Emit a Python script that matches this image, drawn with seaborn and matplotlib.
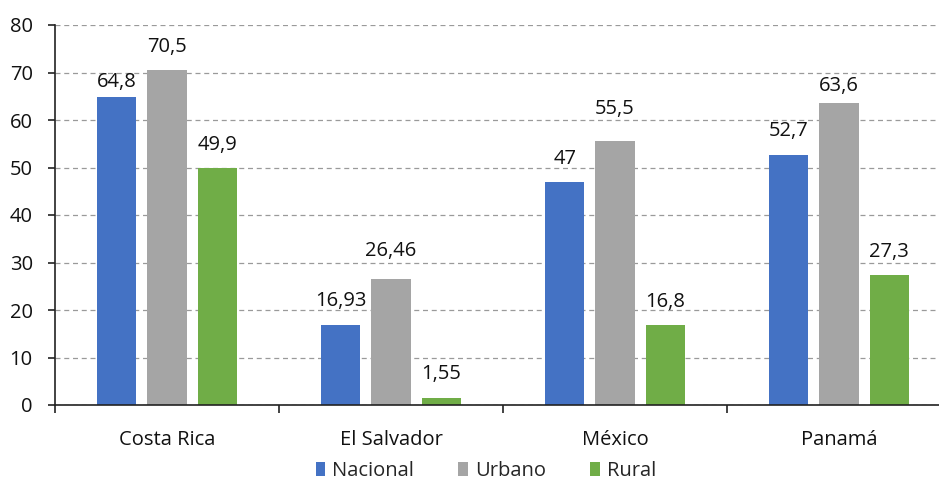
import matplotlib
matplotlib.use("Agg")
import matplotlib.pyplot as plt
from matplotlib.patches import Patch
import seaborn as sns
import pandas as pd

paises = ["Costa Rica", "El Salvador", "México", "Panamá"]
series = ["Nacional", "Urbano", "Rural"]
nacional = [64.8, 16.93, 47.0, 52.7]
urbano = [70.5, 26.46, 55.5, 63.6]
rural = [49.9, 1.55, 16.8, 27.3]
etiquetas_nacional = ["64,8", "16,93", "47", "52,7"]
etiquetas_urbano = ["70,5", "26,46", "55,5", "63,6"]
etiquetas_rural = ["49,9", "1,55", "16,8", "27,3"]
colores = ["#4472C4", "#A5A5A5", "#70AD47"]

# distance (points) between each bar top and its value label
sep_nacional = [3.5, 9.5, 9.5, 9.5]
sep_urbano = [9.5, 13.5, 16.0, 5.0]
sep_rural = [9.0, 10.0, 9.5, 9.5]

filas = []
for serie, valores in zip(series, [nacional, urbano, rural]):
    for pais, v in zip(paises, valores):
        filas.append({"pais": pais, "serie": serie, "valor": v})
df = pd.DataFrame(filas)

sns.set_theme(style="white")
plt.rcParams["font.family"] = ["Open Sans", "DejaVu Sans"]

FS = 14.5

fig = plt.figure(figsize=(9.39, 4.83), dpi=100)
ax = fig.add_axes([55 / 939, 1 - 405 / 483, 896 / 939, 380 / 483])

sns.barplot(data=df, x="pais", y="valor", hue="serie", hue_order=series,
            palette=colores, width=0.67, gap=0.22, ax=ax, legend=False,
            saturation=1, edgecolor="none")

ax.set_ylim(0, 80)
ax.set_xlim(-0.5, 3.5)
ax.set_yticks(range(0, 81, 10))
ax.set_xlabel("")
ax.set_ylabel("")
ax.yaxis.grid(True, color="#9A9A9A", linestyle=(0, (4, 3)), linewidth=0.9)
ax.set_axisbelow(True)

for s in ["top", "right"]:
    ax.spines[s].set_visible(False)
for s in ["left", "bottom"]:
    ax.spines[s].set_color("#222222")
    ax.spines[s].set_linewidth(1.2)

ax.tick_params(axis="y", which="both", left=True, length=5, width=1.2,
               color="#222222", labelsize=FS, pad=11, labelcolor="#111111")
ax.set_xticks([0, 1, 2, 3])
ax.set_xticklabels(paises)
ax.tick_params(axis="x", length=0, labelsize=FS, pad=18, labelcolor="#111111")
ax.set_xticks([-0.5, 0.5, 1.5, 2.5, 3.5], minor=True)
ax.tick_params(axis="x", which="minor", bottom=True, length=6, width=1.2,
               color="#222222")

etiquetas = [etiquetas_nacional, etiquetas_urbano, etiquetas_rural]
separaciones = [sep_nacional, sep_urbano, sep_rural]
for cont, labs, seps in zip(ax.containers, etiquetas, separaciones):
    for barra, txt, sep in zip(cont, labs, seps):
        ax.annotate(txt, (barra.get_x() + barra.get_width() / 2, barra.get_height()),
                    xytext=(0, sep), textcoords="offset points",
                    ha="center", va="bottom", fontsize=FS, color="#111111")

handles = [Patch(facecolor=c, edgecolor="none") for c in colores]
fig.legend(handles, series, loc="center", bbox_to_anchor=(486 / 939, 1 - 471 / 483),
           ncol=3, frameon=False, fontsize=FS, handlelength=0.48,
           handleheight=0.65, handletextpad=0.35, columnspacing=2.2,
           borderpad=0.1)

fig.savefig("out.png", dpi=100)
